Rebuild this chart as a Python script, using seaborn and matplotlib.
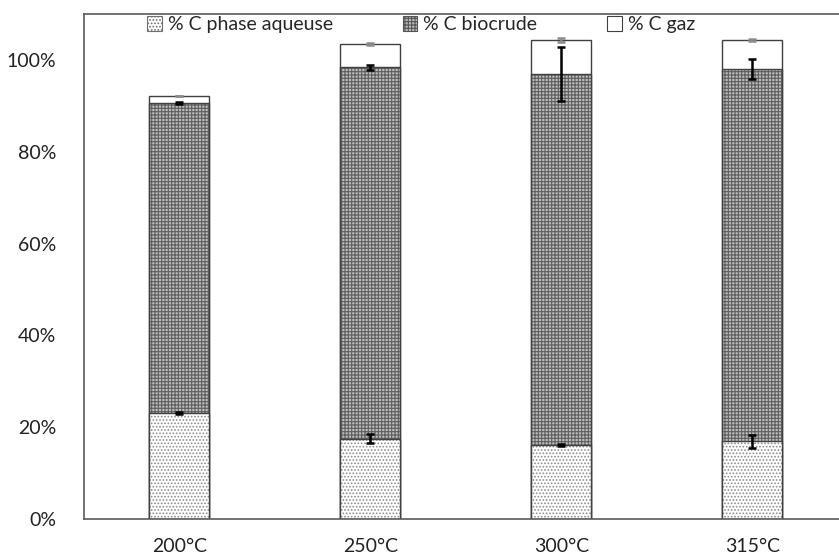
import matplotlib
matplotlib.use("Agg")
import matplotlib.pyplot as plt
from matplotlib.patches import Patch
import seaborn as sns
import numpy as np

# values (% of carbon)
temperatures = ["200°C", "250°C", "300°C", "315°C"]
aqueous = [23.1, 17.5, 16.1, 16.9]
biocrude = [67.6, 80.9, 80.9, 81.1]
gas = [1.4, 5.1, 7.3, 6.4]
err_aqueous = [0.2, 1.0, 0.3, 1.4]
err_biocrude = [0.2, 0.5, 5.9, 2.1]
err_gas = [0.0, 0.2, 0.4, 0.2]
labels = ["% C phase aqueuse", "% C biocrude", "% C gaz"]

sns.set_style("white")
plt.rcParams["font.family"] = ["Lato", "DejaVu Sans"]
plt.rcParams["hatch.linewidth"] = 0.8

fig = plt.figure(figsize=(8.39, 5.60), dpi=100)
ax = fig.add_axes([0.1001, 0.0732, 0.9106, 0.9018])

# cumulative tops for stacking
top_aq = np.array(aqueous)
top_bio = top_aq + np.array(biocrude)
top_gas = top_bio + np.array(gas)

w = 0.314
aq_style = dict(color="white", hatch=".....", edgecolor="#8c8c8c")
bio_style = dict(color="#bcbcbc", hatch="+++++", edgecolor="#5e5e5e")
layers = [
    (top_gas, dict(color="white", hatch=None, edgecolor="white")),
    (top_bio, bio_style),
    (top_aq, aq_style),
]
for tops, st in layers:
    sns.barplot(x=temperatures, y=tops, order=temperatures, saturation=1,
                width=w, linewidth=0, ax=ax, **st)
    sns.barplot(x=temperatures, y=tops, order=temperatures, fill=False,
                width=w, edgecolor="#404040", linewidth=1.0, ax=ax)

xpos = np.arange(len(temperatures))
ax.errorbar(xpos, top_aq, yerr=err_aqueous, fmt="none", ecolor="black",
            elinewidth=1.8, capsize=3, capthick=1.8, zorder=5)
ax.errorbar(xpos, top_bio, yerr=err_biocrude, fmt="none", ecolor="black",
            elinewidth=1.8, capsize=3, capthick=1.8, zorder=5)
ax.errorbar(xpos, top_gas, yerr=err_gas, fmt="none", ecolor="#8a8a8a",
            elinewidth=1.8, capsize=3, capthick=1.8, zorder=5)

ax.set_xlim(-0.5, 3.5)
ax.set_ylim(0, 110)
ax.set_yticks([0, 20, 40, 60, 80, 100])
ax.set_yticklabels([f"{v}%" for v in [0, 20, 40, 60, 80, 100]])
ax.tick_params(axis="y", length=0, labelsize=14, colors="#222222", pad=20)
ax.tick_params(axis="x", length=0, labelsize=14, colors="#222222", pad=14)
ax.set_xlabel("")
ax.set_ylabel("")
for side in ["left", "bottom", "top"]:
    ax.spines[side].set_color("#5a5a5a")
    ax.spines[side].set_linewidth(1.2)
ax.spines["right"].set_visible(False)

handles = [
    Patch(facecolor="white", hatch=".....", edgecolor="#707070", linewidth=0.8),
    Patch(facecolor="#bcbcbc", hatch="+++++", edgecolor="#555555", linewidth=0.8),
    Patch(facecolor="white", edgecolor="#404040", linewidth=0.8),
]
ax.legend(handles, labels, loc="upper left", bbox_to_anchor=(0.06, 1.03),
          ncol=3, frameon=False, fontsize=14, handlelength=0.75,
          handleheight=0.75, handletextpad=0.3, columnspacing=3.6)

fig.savefig("out.png", dpi=100)
